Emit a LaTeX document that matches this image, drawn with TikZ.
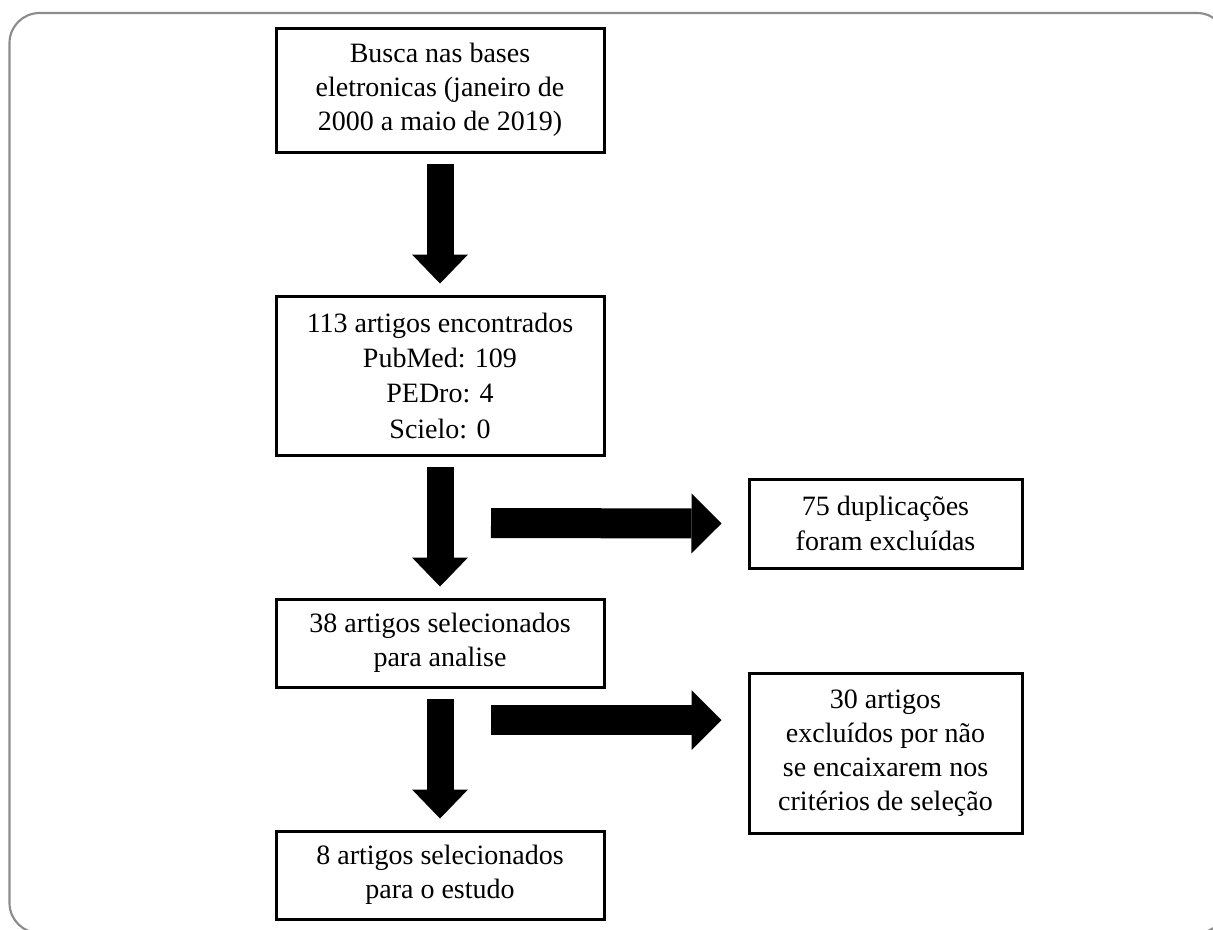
\documentclass[tikz,border=0pt]{standalone}
\usepackage{fontspec}
\setmainfont{Liberation Serif}
\usetikzlibrary{positioning, calc, arrows.meta}

\begin{document}
\begin{tikzpicture}[x=0.75pt, y=-0.75pt,
				StepBox/.style={rectangle, draw=black, line width=2.25pt, align=center, inner sep=0pt, minimum width=246pt, font=\fontsize{21}{25.5}\selectfont},
				SideBox/.style={StepBox, minimum width=204.75pt},
				FatDown/.style={line width=20.25pt, -{Triangle[width=42pt, length=21.75pt, line width=0pt]}},
				FatRight/.style={line width=22.5pt, -{Triangle[width=45pt, length=22.5pt, line width=0pt]}}]

			\useasboundingbox (0,0) rectangle (1213,929);
			\clip (0,0) rectangle (1213,929);

			% Frame
			\draw[black!45, line width=1.6pt, rounded corners=22.5pt] (9.5,13) rectangle (1227,933);

			% Nodes
			\node[StepBox, minimum height=93pt] (Search) at (440,90) {Busca nas bases\\eletronicas (janeiro de\\2000 a maio de 2019)};
			\node[StepBox, minimum height=119.25pt, font=\fontsize{21}{26.5}\selectfont] (Found) [below=105.75pt of Search] {113 artigos encontrados\\PubMed: 109\\PEDro: 4\\Scielo: 0};
			\node[StepBox, minimum height=66pt] (Selected) [below=105.75pt of Found] {38 artigos selecionados\\para analise};
			\node[StepBox, minimum height=66pt] (Study) [below=105.75pt of Selected] {8 artigos selecionados\\para o estudo};

			\coordinate (DupStart) at (491,523);
			\coordinate (ExclStart) at (491,720);
			\node[SideBox, minimum height=66.75pt, font=\fontsize{21}{26.5}\selectfont] (Dup) at (885.5,523.5) {75 duplicações\\foram excluídas};
			\node[SideBox, minimum height=120pt] (Excl) at (885.5,753) {30 artigos\\excluídos por não\\se encaixarem nos\\critérios de seleção};

			% Arrows
			\draw[FatDown] ([yshift=-7.5pt]Search.south) to ([yshift=8.25pt]Found.north);
			\draw[FatDown] ([yshift=-7.5pt]Found.south) to ([yshift=8.25pt]Selected.north);
			\draw[FatDown] ([yshift=-7.5pt]Selected.south) to ([yshift=8.25pt]Study.north);
			\draw[FatRight] (DupStart) to ([xshift=-19.5pt]Dup.west);
			\draw[FatRight] (ExclStart) to ([xshift=-19.5pt]Excl.west |- ExclStart);
		\end{tikzpicture}
\end{document}
